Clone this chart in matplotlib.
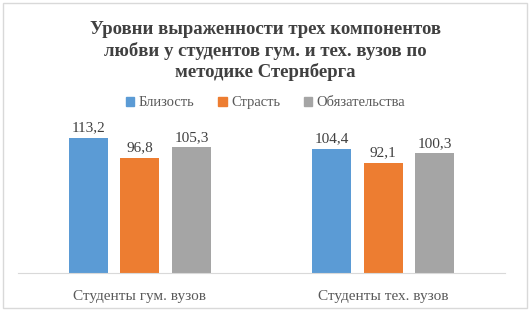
import matplotlib
matplotlib.use('Agg')
import matplotlib.pyplot as plt
import numpy as np
from matplotlib.patches import Rectangle, Patch

groups = ['Студенты гум. вузов', 'Студенты тех. вузов']
series = ['Близость', 'Страсть', 'Обязательства']
blizost = [113.2, 104.4]
strast = [96.8, 92.1]
obyaz = [105.3, 100.3]
colors = ['#5B9BD5', '#ED7D31', '#A5A5A5']

plt.rcParams['font.family'] = ['Liberation Serif', 'DejaVu Serif']

W, H = 531, 315
fig = plt.figure(figsize=(W/100, H/100), dpi=100)
fig.patches.append(Rectangle((3/W, 1-308/H), 524/W, 305/H, transform=fig.transFigure,
                             fill=False, edgecolor='#D9D9D9', lw=1))

ax = fig.add_axes([18/W, 1-273/H, 487/W, 155/H])
x = np.arange(len(groups))
bw = 0.16
off = 0.212
for i, (vals, c) in enumerate(zip([blizost, strast, obyaz], colors)):
    pos = x + (i-1)*off
    ax.bar(pos, vals, bw, color=c, label=series[i])
    for p, v in zip(pos, vals):
        ax.text(p, v + 3, f'{v:.1f}'.replace('.', ','), ha='center', va='bottom',
                fontsize=11, color='#404040')

ax.set_xlim(-0.5, 1.5)
ax.set_ylim(0, 130)
ax.set_yticks([])
ax.set_xticks(x)
ax.set_xticklabels(groups, fontsize=11, color='#595959')
ax.tick_params(axis='x', length=0, pad=12)
for s in ['top', 'left', 'right']:
    ax.spines[s].set_visible(False)
ax.spines['bottom'].set_color('#D9D9D9')

fig.text(0.5, 1-51/H, 'Уровни выраженности трех компонентов\nлюбви у студентов гум. и тех. вузов по\nметодике Стернберга',
         ha='center', va='center', fontsize=13.5, fontweight='bold', color='#404040', linespacing=1.22)

handles = [Patch(color=c) for c in colors]
fig.legend(handles, series, loc='center', bbox_to_anchor=(0.5, 1-103/H), ncol=3, frameon=False,
           fontsize=10.5, handlelength=0.6, handleheight=0.6, handletextpad=0.3, columnspacing=1.6,
           labelcolor='#595959')

fig.savefig('out.png', dpi=100)
